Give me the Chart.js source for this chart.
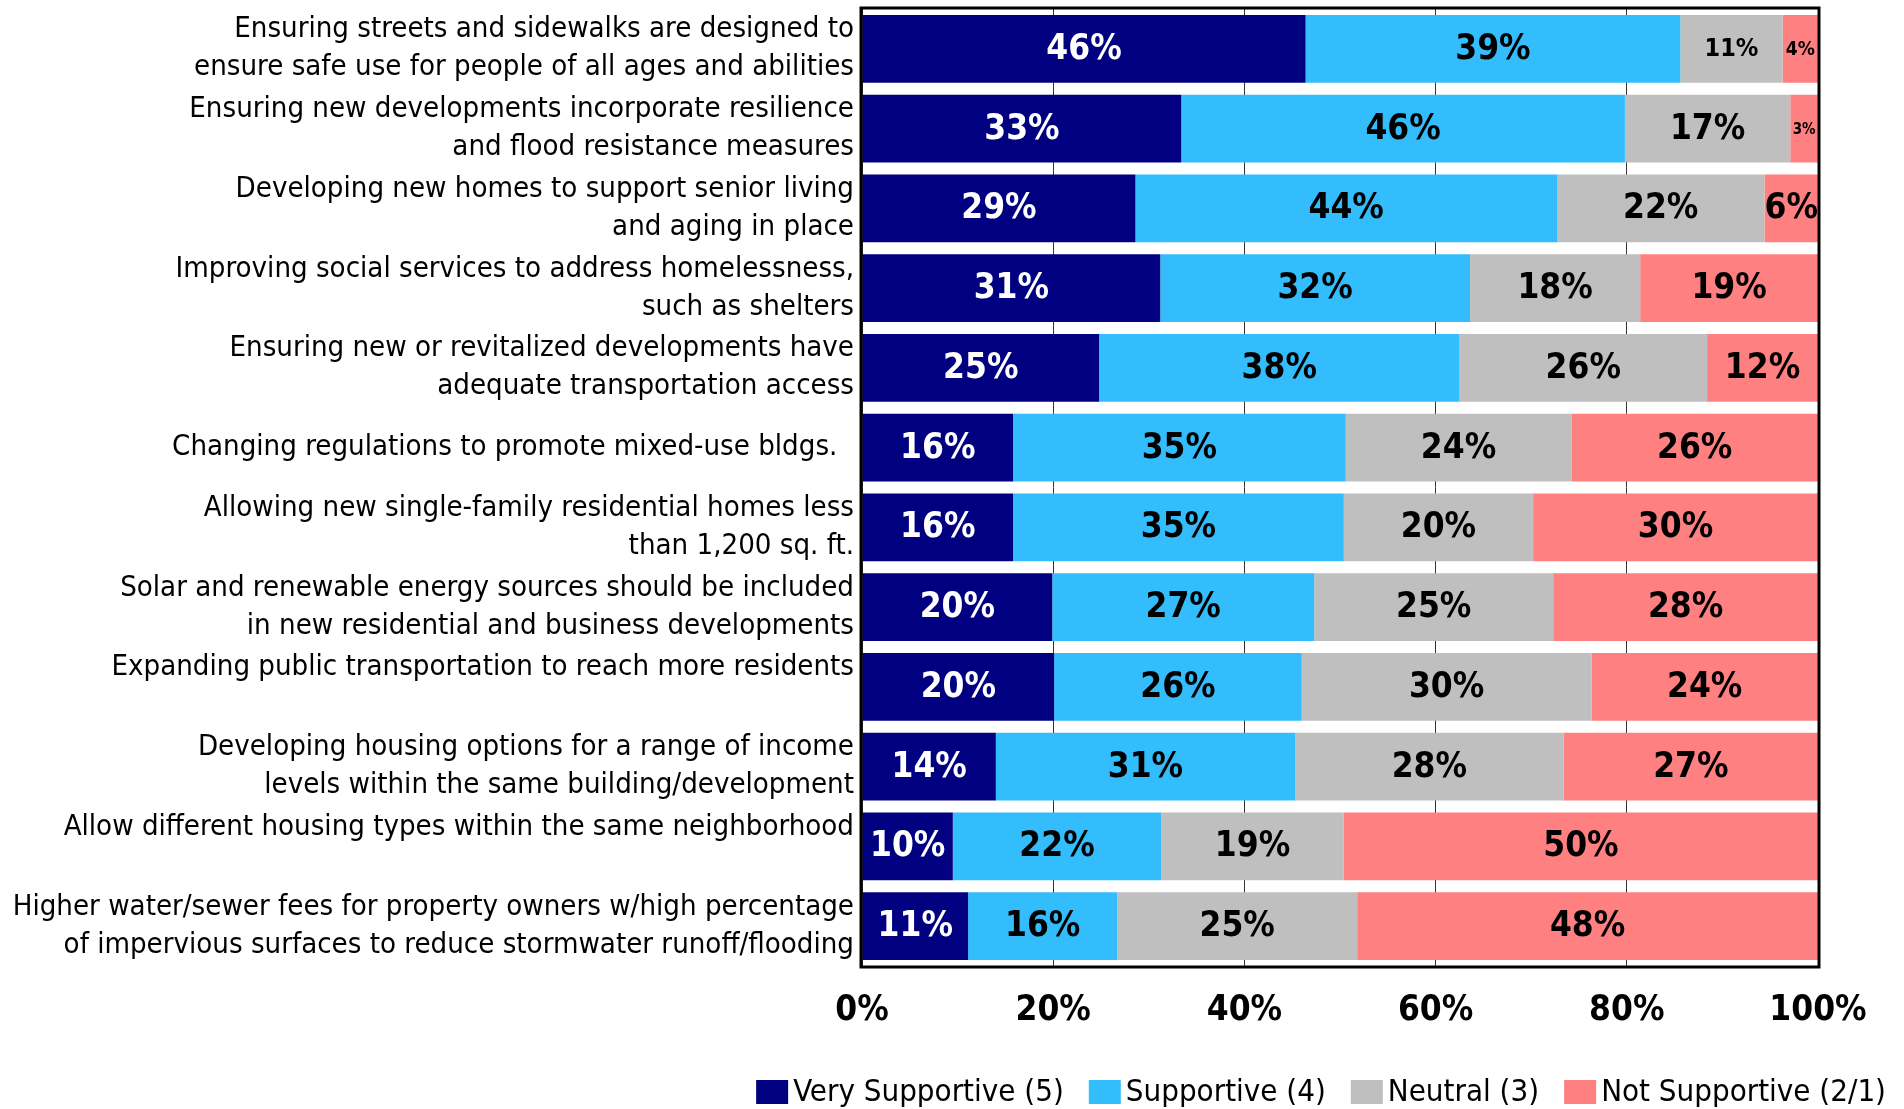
<!DOCTYPE html>
<html>
<head>
<meta charset="utf-8">
<script src="https://cdn.jsdelivr.net/npm/chart.js@4.4.1/dist/chart.umd.min.js"></script>
<style>
  html, body { margin: 0; padding: 0; background: #fff; }
  #wrap { width: 1904px; height: 1109px; position: relative; }
</style>
</head>
<body>
<div id="wrap"><canvas id="chart"></canvas></div>
<script>
// category labels (one array of lines per bar, top to bottom)
const categories = [
    ["Ensuring streets and sidewalks are designed to", "ensure safe use for people of all ages and abilities"],
    ["Ensuring new developments incorporate resilience", "and flood resistance measures"],
    ["Developing new homes to support senior living", "and aging in place"],
    ["Improving social services to address homelessness,", "such as shelters"],
    ["Ensuring new or revitalized developments have", "adequate transportation access"],
    ["Changing regulations to promote mixed-use bldgs.  "],
    ["Allowing new single-family residential homes less", "than 1,200 sq. ft."],
    ["Solar and renewable energy sources should be included", "in new residential and business developments"],
    ["Expanding public transportation to reach more residents", ""],
    ["Developing housing options for a range of income", "levels within the same building/development"],
    ["Allow different housing types within the same neighborhood", ""],
    ["Higher water/sewer fees for property owners w/high percentage", "of impervious surfaces to reduce stormwater runoff/flooding"]
];

const seriesNames = ["Very Supportive (5)", "Supportive (4)", "Neutral (3)", "Not Supportive (2/1)"];

// shares in percent
const verySupportive = [46.4, 33.4, 28.6, 31.2, 24.8, 15.8, 15.8, 19.9, 20.1, 14.0, 9.5, 11.1];
const supportive     = [39.2, 46.4, 44.1, 32.4, 37.7, 34.8, 34.6, 27.4, 25.9, 31.3, 21.8, 15.6];
const neutral        = [10.7, 17.3, 21.7, 17.8, 25.9, 23.6, 19.8, 25.0, 30.3, 28.1, 19.1, 25.1];
const notSupportive  = [3.7, 2.9, 5.6, 18.6, 11.6, 25.8, 29.8, 27.7, 23.7, 26.6, 49.6, 48.2];

const xTicks = [0, 20, 40, 60, 80, 100];

const colors = ["#000080", "#33BDFD", "#BFBFBF", "#FF8080"];
const textColors = ["#fff", "#000", "#000", "#000"];

const FONT = '"DejaVu Sans Condensed", "Liberation Sans", sans-serif';

// size the category font so the longest line fills the label column
const probe = document.createElement("canvas").getContext("2d");
probe.font = "30px " + FONT;
let widest = 0;
categories.flat().forEach(s => { widest = Math.max(widest, probe.measureText(s).width); });
const labelSize = Math.max(22, Math.min(34, 30 * 842 / widest));

// a few value labels are set smaller in the original
const smallLabels = { "0-2": 25, "0-3": 19, "1-3": 15 };

const valueLabels = {
    id: "valueLabels",
    afterDatasetsDraw(chart) {
        const ctx = chart.ctx;
        ctx.save();
        ctx.textAlign = "center";
        ctx.textBaseline = "middle";
        chart.data.datasets.forEach((ds, i) => {
            chart.getDatasetMeta(i).data.forEach((bar, j) => {
                const p = bar.getProps(["x", "y", "base"], true);
                const size = smallLabels[j + "-" + i] || 35;
                ctx.font = "bold " + size + "px " + FONT;
                ctx.fillStyle = textColors[i];
                ctx.fillText(Math.round(ds.data[j]) + "%", (p.x + p.base) / 2, p.y + 1);
            });
        });
        ctx.restore();
    }
};

const frameAndLegend = {
    id: "frameAndLegend",
    afterDraw(chart) {
        const ctx = chart.ctx;
        const a = chart.chartArea;
        ctx.save();
        ctx.strokeStyle = "#000";
        ctx.lineWidth = 3;
        ctx.strokeRect(a.left - 1, a.top - 1, a.right - a.left + 2, a.bottom - a.top + 2);

        // legend, right-aligned under the plot
        ctx.font = "31px " + FONT;
        ctx.textBaseline = "middle";
        ctx.textAlign = "left";
        const box = 32, gapText = 5, gapItem = 25;
        const widths = seriesNames.map(n => box + gapText + ctx.measureText(n).width);
        const total = widths.reduce((s, w) => s + w, 0) + gapItem * (widths.length - 1);
        let x = 1886 - total;
        const y = 1092;
        seriesNames.forEach((n, i) => {
            ctx.fillStyle = colors[i];
            ctx.fillRect(x, y - 12, box, 24);
            ctx.fillStyle = "#000";
            ctx.fillText(n, x + box + gapText, y + 1);
            x += widths[i] + gapItem;
        });
        ctx.restore();
    }
};

const series = [verySupportive, supportive, neutral, notSupportive];

new Chart(document.getElementById("chart"), {
    type: "bar",
    data: {
        labels: categories,
        datasets: series.map((values, i) => ({
            label: seriesNames[i],
            data: values,
            backgroundColor: colors[i],
            borderWidth: 0,
            barPercentage: 0.85,
            categoryPercentage: 1
        }))
    },
    options: {
        indexAxis: "y",
        responsive: true,
        maintainAspectRatio: false,
        animation: false,
        layout: { padding: { left: 0, right: 86, top: 9, bottom: 0 } },
        plugins: {
            legend: { display: false },
            tooltip: { enabled: false }
        },
        scales: {
            x: {
                stacked: true,
                min: 0,
                max: 100,
                afterBuildTicks: scale => { scale.ticks = xTicks.map(v => ({ value: v })); },
                afterFit: scale => { scale.height = 143; },
                grid: { color: "#333", lineWidth: 1, drawTicks: false },
                border: { display: false },
                ticks: {
                    padding: 24,
                    color: "#000",
                    font: { family: FONT, size: 35, weight: "bold" },
                    callback: v => v + "%"
                }
            },
            y: {
                stacked: true,
                afterFit: scale => {
                    scale.width = 862;
                    scale.paddingTop = 0;
                    scale.paddingBottom = 0;
                },
                grid: { display: false, drawTicks: false },
                border: { display: false },
                ticks: {
                    autoSkip: false,
                    padding: 8,
                    color: "#000",
                    font: { family: FONT, size: labelSize, lineHeight: 38 / labelSize }
                }
            }
        }
    },
    plugins: [valueLabels, frameAndLegend]
});
</script>
</body>
</html>
